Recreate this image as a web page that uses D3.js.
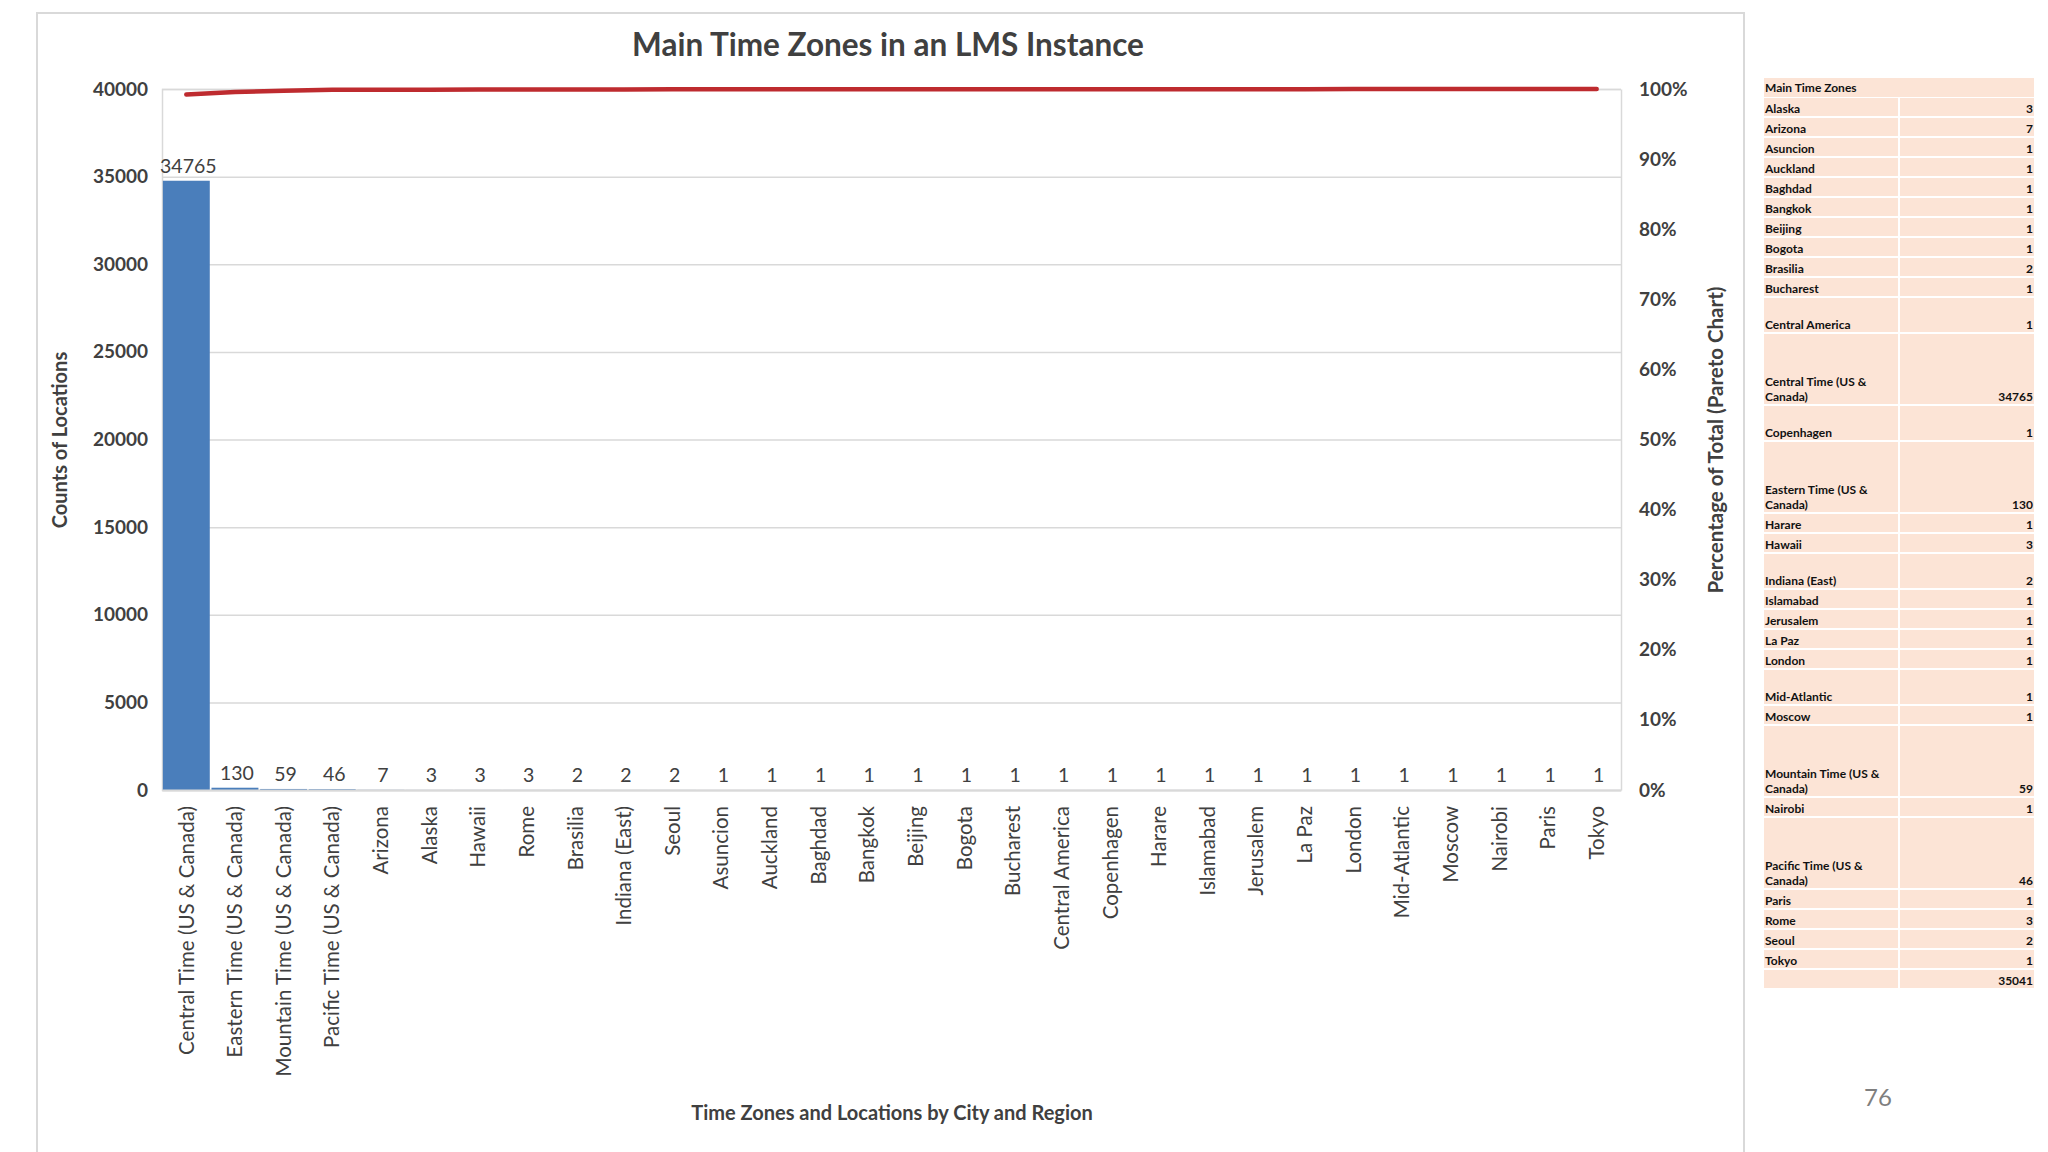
<!DOCTYPE html>
<html><head><meta charset="utf-8">
<script src="https://cdn.jsdelivr.net/npm/d3@7"></script>
<style>
html,body{margin:0;padding:0;background:#fff;}
svg text{font-family:Lato,"Open Sans",sans-serif;}
</style></head>
<body>
<script>
// ---- data ----
const categories = ["Central Time (US & Canada)","Eastern Time (US & Canada)","Mountain Time (US & Canada)","Pacific Time (US & Canada)","Arizona","Alaska","Hawaii","Rome","Brasilia","Indiana (East)","Seoul","Asuncion","Auckland","Baghdad","Bangkok","Beijing","Bogota","Bucharest","Central America","Copenhagen","Harare","Islamabad","Jerusalem","La Paz","London","Mid-Atlantic","Moscow","Nairobi","Paris","Tokyo"];
const counts = [34765,130,59,46,7,3,3,3,2,2,2,1,1,1,1,1,1,1,1,1,1,1,1,1,1,1,1,1,1,1];
const cumulativePct = [0.9921,0.9958,0.9975,0.9988,0.9990,0.9991,0.9992,0.9993,0.9993,0.9994,0.9995,0.9995,0.9995,0.9995,0.9996,0.9996,0.9996,0.9997,0.9997,0.9997,0.9997,0.9998,0.9998,0.9998,0.9999,0.9999,0.9999,0.9999,1.0,1.0];
const leftTicks = [0,5000,10000,15000,20000,25000,30000,35000,40000];
const rightTicks = [0,0.1,0.2,0.3,0.4,0.5,0.6,0.7,0.8,0.9,1.0];
const tableHeader = "Main Time Zones";
const tableNames = ["Alaska","Arizona","Asuncion","Auckland","Baghdad","Bangkok","Beijing","Bogota","Brasilia","Bucharest","Central America","Central Time (US & Canada)","Copenhagen","Eastern Time (US & Canada)","Harare","Hawaii","Indiana (East)","Islamabad","Jerusalem","La Paz","London","Mid-Atlantic","Moscow","Mountain Time (US & Canada)","Nairobi","Pacific Time (US & Canada)","Paris","Rome","Seoul","Tokyo"];
const tableValues = [3,7,1,1,1,1,1,1,2,1,1,34765,1,130,1,3,2,1,1,1,1,1,1,59,1,46,1,3,2,1];
const tableTotal = 35041;
const title = "Main Time Zones in an LMS Instance";
const yTitle = "Counts of Locations";
const y2Title = "Percentage of Total (Pareto Chart)";
const xTitle = "Time Zones and Locations by City and Region";
const pageNumber = "76";

// ---- layout ----
const W = 2048, H = 1152;
const plot = {l:162, r:1621, t:89, b:790};
const grid = "#d9d9d9", txt = "#404040";

const svg = d3.select("body").append("svg").attr("width",W).attr("height",H);

// chart frame
svg.append("path").attr("d",`M37,${H+5}V13H1744V${H+5}`).attr("fill","none").attr("stroke","#d9d9d9").attr("stroke-width",2);

const x = d3.scaleBand().domain(categories).range([plot.l,plot.r]).paddingInner(0.035).paddingOuter(0.0175);
const y = d3.scaleLinear().domain([0,40000]).range([plot.b,plot.t]);
const y2 = d3.scaleLinear().domain([0,1]).range([plot.b,plot.t]);

// gridlines + left axis
const gAxisL = svg.append("g").attr("transform",`translate(${plot.l},0)`)
  .call(d3.axisLeft(y).tickValues(leftTicks).tickSize(-(plot.r-plot.l)).tickPadding(14).tickFormat(d3.format("d")));
gAxisL.select(".domain").attr("stroke",grid).attr("stroke-width",1.5);
gAxisL.selectAll(".tick line").attr("stroke",grid).attr("stroke-width",1.5);
gAxisL.selectAll(".tick text").attr("fill",txt).attr("font-size",19).attr("font-weight",700);

const gAxisR = svg.append("g").attr("transform",`translate(${plot.r},0)`)
  .call(d3.axisRight(y2).tickValues(rightTicks).tickSize(0).tickPadding(18).tickFormat(d3.format(".0%")));
gAxisR.select(".domain").attr("stroke",grid).attr("stroke-width",1.5);
gAxisR.selectAll(".tick text").attr("fill",txt).attr("font-size",19).attr("font-weight",700);

// bars
svg.append("g").selectAll("rect").data(categories).join("rect")
  .attr("x",d=>x(d)).attr("width",x.bandwidth())
  .attr("y",(d,i)=>y(counts[i])).attr("height",(d,i)=>plot.b-y(counts[i]))
  .attr("fill","#4a7ebb");

// x axis
const gAxisB = svg.append("g").attr("transform",`translate(0,${plot.b})`)
  .call(d3.axisBottom(x).tickSize(0).tickPadding(0));
gAxisB.select(".domain").attr("stroke",grid).attr("stroke-width",2);
gAxisB.selectAll(".tick text")
  .attr("transform","rotate(-90)")
  .attr("x",-16).attr("y",0).attr("dy","0.35em")
  .attr("text-anchor","end")
  .attr("fill",txt).attr("font-size",20.5);

// data labels
svg.append("g").selectAll("text").data(categories).join("text")
  .attr("x",d=>x(d)+x.bandwidth()/2+2)
  .attr("y",(d,i)=>y(counts[i])-8)
  .attr("text-anchor","middle")
  .attr("fill",txt).attr("font-size",19.5)
  .text((d,i)=>counts[i]);

// pareto line
const line = d3.line().x((d,i)=>x(categories[i])+x.bandwidth()/2).y(d=>y2(d));
svg.append("path").datum(cumulativePct).attr("d",line)
  .attr("fill","none").attr("stroke","#be2b2f").attr("stroke-width",4.5).attr("stroke-linecap","round");

// titles
svg.append("text").attr("x",888).attr("y",56).attr("text-anchor","middle")
  .attr("fill",txt).attr("font-size",31.5).attr("font-weight",700).text(title);
svg.append("text").attr("transform",`translate(67,440) rotate(-90)`).attr("text-anchor","middle")
  .attr("fill",txt).attr("font-size",20).attr("font-weight",700).text(yTitle);
svg.append("text").attr("transform",`translate(1723,440) rotate(-90)`).attr("text-anchor","middle")
  .attr("fill",txt).attr("font-size",20.5).attr("font-weight",700).text(y2Title);
svg.append("text").attr("x",892).attr("y",1120).attr("text-anchor","middle")
  .attr("fill",txt).attr("font-size",20).attr("font-weight",700).text(xTitle);

// table
const tbl = {l:1764, mid:1899, r:2034, t:78};
const rowH = name => name.includes("(US &") ? 72 : (["Central America","Copenhagen","Indiana (East)","Mid-Atlantic"].includes(name) ? 36 : 20);
const tg = svg.append("g").attr("font-size",12).attr("font-weight",700).attr("fill","#111");
let yy = tbl.t;
tg.append("rect").attr("x",tbl.l).attr("y",yy).attr("width",tbl.r-tbl.l).attr("height",19).attr("fill","#fce4d6");
tg.append("text").attr("x",tbl.l+1).attr("y",yy+14).text(tableHeader);
yy += 20;
const rows = tableNames.map((n,i)=>({n,v:tableValues[i]})).concat([{n:"",v:tableTotal}]);
rows.forEach(r=>{
  const h = r.n ? rowH(r.n) : 20;
  tg.append("rect").attr("x",tbl.l).attr("y",yy).attr("width",tbl.mid-tbl.l-1).attr("height",h-2).attr("fill","#fce4d6");
  tg.append("rect").attr("x",tbl.mid+1).attr("y",yy).attr("width",tbl.r-tbl.mid-1).attr("height",h-2).attr("fill","#fce4d6");
  if (r.n.includes("(US &")) {
    const parts = [r.n.slice(0, r.n.indexOf("&")+1), r.n.slice(r.n.indexOf("&")+2)];
    tg.append("text").attr("x",tbl.l+1).attr("y",yy+h-20).text(parts[0]);
    tg.append("text").attr("x",tbl.l+1).attr("y",yy+h-5).text(parts[1]);
  } else if (r.n) {
    tg.append("text").attr("x",tbl.l+1).attr("y",yy+h-5).text(r.n);
  }
  tg.append("text").attr("x",tbl.r-1).attr("y",yy+h-5).attr("text-anchor","end").text(r.v);
  yy += h;
});

// page number
svg.append("text").attr("x",1878).attr("y",1106).attr("text-anchor","middle")
  .attr("fill","#7f7f7f").attr("font-size",24).text(pageNumber);
</script>
</body></html>
